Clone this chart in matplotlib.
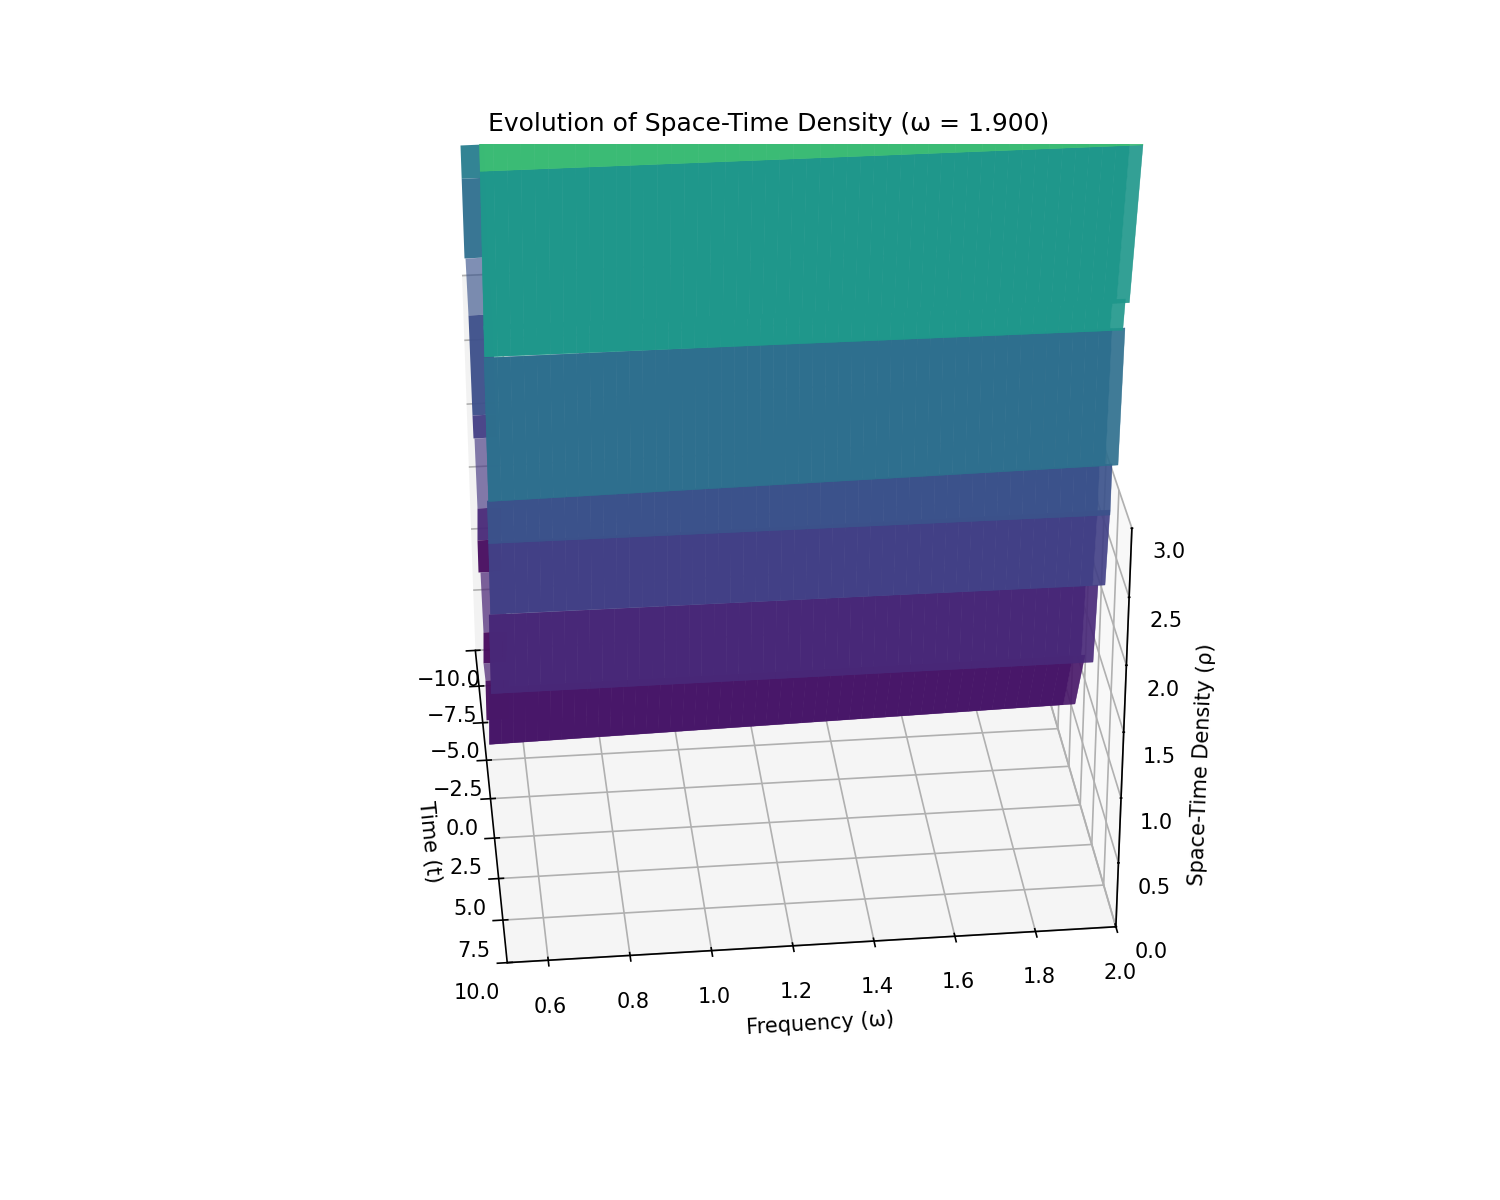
import numpy as np
import matplotlib
matplotlib.use('Agg')
import matplotlib.pyplot as plt

# Front arm of the density surface: one strip per row (t > 0)
front_t0 = [0.78, 3.97, 5.66, 6.09, 7.17, 7.83, 8.05, 9.29]
front_t1 = [2.40, 4.37, 6.05, 6.12, 7.47, 8.08, 9.29, 10.0]
front_z0_left = [0.532, 1.316, 2.116, 2.686, 3.111, 4.200, 4.410, 5.593]
front_z1_left = [1.176, 1.962, 2.694, 3.000, 4.156, 4.440, 5.593, 6.400]
front_z0_right = [0.598, 1.309, 2.093, 2.662, 3.145, 4.173, 4.385, 5.572]
front_z1_right = [1.178, 1.946, 2.695, 3.040, 4.151, 4.415, 5.572, 6.400]
front_color = [0.06, 0.11, 0.19, 0.25, 0.36, 0.53, 0.53, 0.68]
front_omega_end = [2.0, 2.0, 2.0, 2.0, 2.0, 1.99, 2.0, 2.0]

# Back arm of the surface (t < 0): only its edge shows behind the front arm
back_t0 = [-7.39, -7.38, -6.40, -5.44, -4.96, -3.80, -3.27, -4.35, -2.53, -1.65, -2.68, -1.33]
back_t1 = [-7.38, -7.38, -5.44, -4.96, -4.77, -3.27, -4.35, -4.46, -1.65, -2.68, -1.33, -1.70]
back_z0 = [4.228, 3.984, 3.486, 3.155, 2.446, 2.393, 1.913, 1.544, 1.499, 1.130, 0.763, 0.788]
back_z1 = [3.984, 3.391, 3.155, 2.446, 2.290, 1.913, 1.544, 1.279, 1.130, 0.763, 0.788, 0.425]
back_color = [0.42, 0.36, 0.26, 0.24, 0.18, 0.16, 0.11, 0.03, 0.09, 0.02, 0.08, 0.03]
back_alpha = [0.95, 0.95, 0.65, 0.95, 0.95, 0.65, 0.95, 0.95, 0.70, 0.95, 0.70, 0.95]

omega_min, omega_max = 0.5, 2.0
t_near, t_far = 10, -10
rho_max = 3
n_columns = 50
back_omega_end = 0.56

cmap = plt.get_cmap('viridis')

fig = plt.figure(figsize=(10, 8), dpi=150)
ax = fig.add_subplot(111, projection='3d', computed_zorder=False)


def band(t0, t1, z0l, z1l, z0r, z1r, w_end, value, alpha, order, edge_alpha=None, lw=0):
    columns = max(2, int(round(n_columns * (w_end - omega_min) / (omega_max - omega_min))))
    w = np.linspace(omega_min, w_end, columns)
    X = np.vstack([w, w])
    Y = np.vstack([np.full_like(w, t0), np.full_like(w, t1)])
    Z = np.vstack([np.linspace(z0l, z0r, columns), np.linspace(z1l, z1r, columns)])
    faces = np.zeros((1, columns - 1, 4))
    faces[..., :3] = cmap(value)[:3]
    faces[..., 3] = alpha
    if edge_alpha is not None:
        faces[0, -1, 3] = edge_alpha
    ax.plot_surface(X, Y, Z, facecolors=faces, shade=False, linewidth=lw,
                    edgecolor=cmap(value)[:3] + (0.6,), rstride=1, cstride=1, zorder=order)


for i in range(len(back_t0)):
    band(back_t0[i], back_t1[i], back_z0[i], back_z1[i], back_z0[i], back_z1[i],
         back_omega_end, back_color[i], back_alpha[i], 1 + i * 0.01)

# Each front strip is laid down in two coats, as the folded surface overlaps itself
for i in range(len(front_t0)):
    for coat in range(2):
        band(front_t0[i], front_t1[i], front_z0_left[i], front_z1_left[i],
             front_z0_right[i], front_z1_right[i], front_omega_end[i],
             front_color[i], 0.97, 2 + i * 0.01 + coat * 0.001, edge_alpha=0.7,
             lw=0.2 if coat == 0 else 0)

ax.set_xlim(omega_min, omega_max)
ax.set_ylim(t_near, t_far)
ax.set_zlim(0, rho_max)
ax.set_xlabel('Frequency (ω)')
ax.set_ylabel('Time (t)')
ax.set_zlabel('Space-Time Density (ρ)')
ax.set_title('Evolution of Space-Time Density (ω = 1.900)')
ax.view_init(elev=30, azim=-96)
ax.zaxis.set_ticks_position('upper')
ax.zaxis.set_label_position('upper')
ax.zaxis._axinfo['tick']['inward_factor'] = 0.012
ax.zaxis._axinfo['tick']['outward_factor'] = 0.012

fig.savefig('out.png', dpi=150)
